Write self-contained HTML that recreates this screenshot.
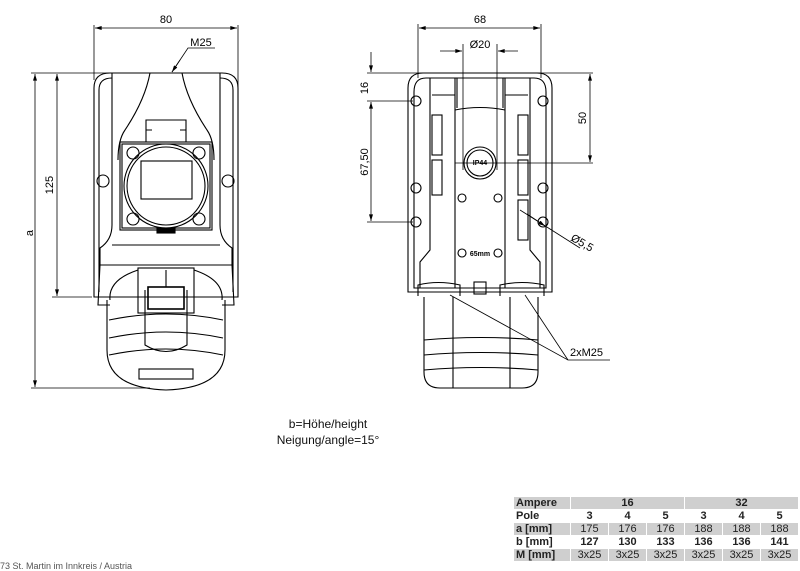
<!DOCTYPE html>
<html><head><meta charset="utf-8"><style>
html,body{margin:0;padding:0;background:#fff;}
body{width:800px;height:571px;overflow:hidden;position:relative;font-family:"Liberation Sans",Arial,sans-serif;}
svg{position:absolute;left:0;top:0;}
table{position:absolute;left:513px;top:496px;border-collapse:separate;border-spacing:1px;font-size:11px;font-family:"Liberation Sans",Arial,sans-serif;}
td{height:12px;padding:0 2px;line-height:12px;text-align:center;color:#222;}
td.l{text-align:left;width:52px;font-weight:bold;}
.g td{background:#cfcfcf;}
.b{font-weight:bold;}
td.w{width:33px;}
</style></head><body>
<svg width="800" height="571" viewBox="0 0 800 571" xmlns="http://www.w3.org/2000/svg" font-family="Liberation Sans, Arial, sans-serif">
<defs>
<marker id="a" viewBox="0 0 10 6" refX="10" refY="3" markerWidth="9" markerHeight="5" orient="auto-start-reverse"><path d="M0,0L10,3L0,6z" fill="#000"/></marker>
</defs>
<g stroke="#000" stroke-width="0.8" fill="none">
<line x1="94" y1="25" x2="94" y2="80"/><line x1="238" y1="25" x2="238" y2="90"/>
<line x1="95" y1="28" x2="237" y2="28" marker-start="url(#a)" marker-end="url(#a)"/>
<polyline points="215,48 188,48 172,72" /><line x1="180" y1="60" x2="172" y2="72" marker-end="url(#a)"/>
<line x1="31" y1="73" x2="112" y2="73"/><line x1="52" y1="297" x2="92" y2="297"/><line x1="31" y1="388" x2="150" y2="388"/>
<line x1="35" y1="74" x2="35" y2="387" marker-start="url(#a)" marker-end="url(#a)"/>
<line x1="57" y1="74" x2="57" y2="296" marker-start="url(#a)" marker-end="url(#a)"/>
</g>
<g fill="#000" font-size="11">
<text x="166" y="23" text-anchor="middle">80</text>
<text x="201" y="46" text-anchor="middle">M25</text>
<text x="53" y="185" transform="rotate(-90 53 185)" text-anchor="middle">125</text>
<text x="33" y="233" transform="rotate(-90 33 233)" text-anchor="middle">a</text>
</g>
<g stroke="#000" stroke-width="1.1" fill="none">
<path d="M94,297 V88 Q94,73 110,73 H222 Q238,73 238,88 V297 Z"/>
<path d="M99,292 V90 Q99,78 112,78"/><path d="M233,292 V90 Q233,78 220,78"/>
<path d="M112,73 V225 Q112,240 100,248 V265 H232 V248 Q220,240 220,225 V73"/>
<path d="M150,73 Q145,100 125,130 Q118,140 118,160"/><path d="M182,73 Q187,100 207,130 Q214,140 214,160"/>
<rect x="120" y="142" width="92" height="88"/>
<rect x="122" y="144" width="88" height="84"/>
<circle cx="166" cy="186" r="42"/><circle cx="166" cy="186" r="39"/>
<rect x="141" y="161" width="51" height="38"/>
<path d="M146,142 V120 H186 V142"/><path d="M146,130 H152 M180,130 H186"/>
<circle cx="133" cy="153" r="6"/><circle cx="199" cy="153" r="6"/><circle cx="133" cy="219" r="6"/><circle cx="199" cy="219" r="6"/>
<circle cx="103" cy="181" r="6"/><circle cx="228" cy="181" r="6"/>
<rect x="157" y="228" width="18" height="5" fill="#000"/>
<line x1="112" y1="245" x2="220" y2="245"/>
<path d="M100,265 L98,305 L110,305 M232,265 L234,305 L222,305"/>
<path d="M110,300 Q108,280 138,270 M222,300 Q224,280 194,270"/>
<path d="M107,300 V350 Q107,388 166,390 Q225,388 225,350 V300"/>
<path d="M109,320 Q166,308 223,320 M109,338 Q166,326 223,338 M109,355 Q166,343 223,355"/>
<rect x="138" y="268" width="56" height="45"/>
<path d="M145,290 V345 Q166,358 187,345 V290"/>
<rect x="148" y="287" width="36" height="22" stroke-width="1.6"/>
<line x1="166" y1="270" x2="166" y2="287"/>
<rect x="139" y="369" width="54" height="10"/>
</g>
<g stroke="#000" stroke-width="0.8" fill="none">
<line x1="418" y1="24" x2="418" y2="78"/><line x1="541" y1="24" x2="541" y2="78"/>
<line x1="419" y1="28" x2="540" y2="28" marker-start="url(#a)" marker-end="url(#a)"/>
<line x1="440" y1="51" x2="462" y2="51" marker-end="url(#a)"/><line x1="518" y1="51" x2="498" y2="51" marker-end="url(#a)"/>
<line x1="463" y1="44" x2="463" y2="170"/><line x1="497" y1="44" x2="497" y2="170"/>
<line x1="367" y1="73" x2="593" y2="73"/><line x1="367" y1="101" x2="413" y2="101"/><line x1="367" y1="222" x2="413" y2="222"/>
<line x1="455" y1="163" x2="593" y2="163"/>
<line x1="371" y1="52" x2="371" y2="72" marker-end="url(#a)"/>
<line x1="371" y1="102" x2="371" y2="221" marker-start="url(#a)" marker-end="url(#a)"/>
<line x1="590" y1="74" x2="590" y2="162" marker-start="url(#a)" marker-end="url(#a)"/>
<line x1="520" y1="210" x2="580" y2="248"/><line x1="527" y1="214" x2="545" y2="226" marker-end="url(#a)"/>
<polyline points="450,295 568,360 610,360"/><line x1="525" y1="295" x2="568" y2="360"/>
</g>
<g fill="#000" font-size="11">
<text x="480" y="23" text-anchor="middle">68</text>
<text x="480" y="48" text-anchor="middle">Ø20</text>
<text x="368" y="88" transform="rotate(-90 368 88)" text-anchor="middle">16</text>
<text x="368" y="162" transform="rotate(-90 368 162)" text-anchor="middle">67,50</text>
<text x="586" y="118" transform="rotate(-90 586 118)" text-anchor="middle">50</text>
<text x="570" y="240" transform="rotate(30 570 240)">Ø5,5</text>
<text x="570" y="356">2xM25</text>
</g>
<g stroke="#000" stroke-width="1.1" fill="none">
<path d="M408,292 V88 Q408,73 423,73 H537 Q552,73 552,88 V292 Z"/>
<path d="M414,288 V92 Q414,78 426,78 H534 Q546,78 546,92 V288 Z"/>
<path d="M430,78 V250 L420,262 V288 M530,78 V250 L540,262 V288"/>
<path d="M455,78 V288 M505,78 V288 M432,95 H455 M505,95 H528"/>
<path d="M455,110 Q480,105 505,110 M457,78 V108 M503,78 V108"/>
<rect x="432" y="115" width="10" height="40"/><rect x="432" y="160" width="10" height="35"/>
<rect x="518" y="115" width="10" height="40"/><rect x="518" y="160" width="10" height="35"/><rect x="518" y="200" width="10" height="40"/>
<circle cx="416" cy="101" r="5"/><circle cx="543" cy="101" r="5"/><circle cx="416" cy="188" r="5"/><circle cx="543" cy="188" r="5"/><circle cx="416" cy="222" r="5"/><circle cx="543" cy="222" r="5"/>
<circle cx="480" cy="163" r="16"/><circle cx="480" cy="163" r="13"/>
<circle cx="462" cy="198" r="4"/><circle cx="498" cy="198" r="4"/><circle cx="462" cy="253" r="4"/><circle cx="498" cy="253" r="4"/>
<path d="M418,296 V285 Q438,280 460,285 V296 M500,296 V285 Q522,280 544,285 V296"/>
<rect x="474" y="282" width="12" height="12"/>
<path d="M424,297 V372 Q424,388 440,388 H522 Q538,388 538,372 V297"/>
<path d="M424,340 Q481,335 538,340 M424,355 Q481,350 538,355 M424,370 Q481,365 538,370"/>
<path d="M453,297 V388 M510,297 V388"/>
</g>
<g fill="#000" font-size="7" font-weight="bold"><text x="480" y="165" text-anchor="middle">IP44</text><text x="480" y="256" text-anchor="middle">65mm</text></g>
<g fill="#111" font-size="12">
<text x="328" y="428" text-anchor="middle">b=Höhe/height</text>
<text x="328" y="444" text-anchor="middle">Neigung/angle=15°</text>
</g>
<text x="0" y="569" font-size="9" fill="#555">73 St. Martin im Innkreis / Austria</text>
</svg>
<table>
<tr class="g"><td class="l">Ampere</td><td colspan="3" class="b">16</td><td colspan="3" class="b">32</td></tr>
<tr><td class="l">Pole</td><td class="w b">3</td><td class="w b">4</td><td class="w b">5</td><td class="w b">3</td><td class="w b">4</td><td class="w b">5</td></tr>
<tr class="g"><td class="l">a [mm]</td><td>175</td><td>176</td><td>176</td><td>188</td><td>188</td><td>188</td></tr>
<tr><td class="l">b [mm]</td><td class="b">127</td><td class="b">130</td><td class="b">133</td><td class="b">136</td><td class="b">136</td><td class="b">141</td></tr>
<tr class="g"><td class="l">M [mm]</td><td>3x25</td><td>3x25</td><td>3x25</td><td>3x25</td><td>3x25</td><td>3x25</td></tr>
</table>
</body></html>
